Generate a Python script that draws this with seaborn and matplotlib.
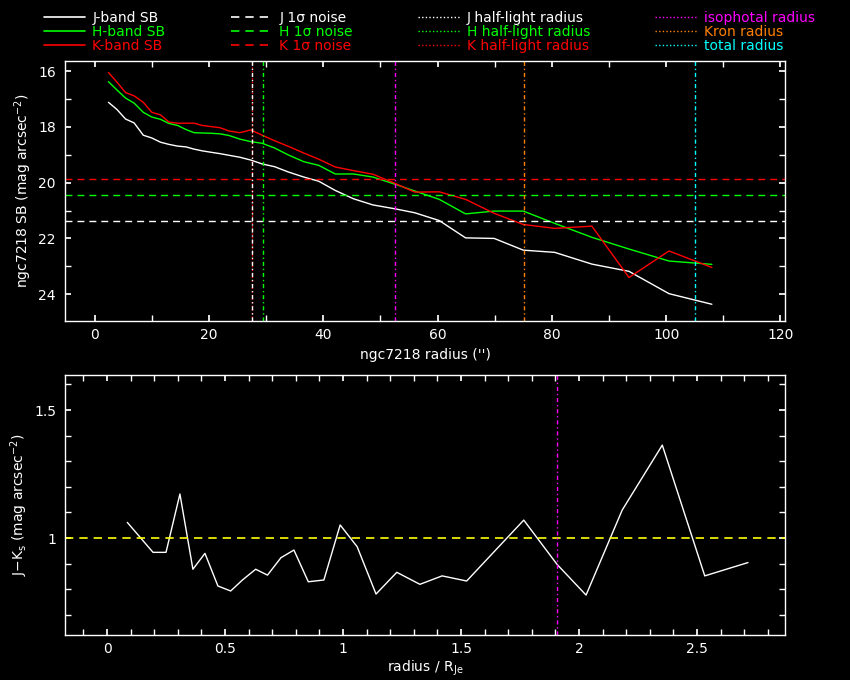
import matplotlib
matplotlib.use("Agg")
import matplotlib.pyplot as plt
from matplotlib.lines import Line2D
from matplotlib.ticker import MultipleLocator
import numpy as np
import pandas as pd
import seaborn as sns

# ---------------- data ----------------
radius = [2.4, 3.9, 5.4, 6.9, 8.5, 10.0, 11.5, 13.0, 14.5, 16.0, 17.4, 18.8,
          20.3, 21.9, 23.5, 25.4, 27.3, 29.3, 31.5, 33.9, 36.6, 39.2, 42.1,
          45.3, 48.7, 52.6, 56.0, 60.3, 64.9, 69.9, 75.0, 80.5, 87.0, 93.5,
          100.5, 108.0]
j_sb = [17.12, 17.38, 17.72, 17.86, 18.30, 18.40, 18.55, 18.63, 18.69, 18.72,
        18.80, 18.86, 18.91, 18.96, 19.02, 19.09, 19.19, 19.33, 19.43, 19.62,
        19.80, 19.95, 20.28, 20.58, 20.80, 20.94, 21.08, 21.36, 21.98, 22.00,
        22.42, 22.50, 22.92, 23.18, 23.98, 24.36]
h_sb = [16.38, 16.68, 16.97, 17.15, 17.48, 17.65, 17.73, 17.88, 17.95, 18.10,
        18.21, 18.22, 18.23, 18.25, 18.31, 18.44, 18.53, 18.59, 18.76, 19.01,
        19.25, 19.38, 19.69, 19.69, 19.80, 20.06, 20.30, 20.60, 21.12, 21.02,
        21.02, 21.46, 21.96, 22.38, 22.81, 22.93]
k_sb = [16.05, 16.40, 16.77, 16.89, 17.12, 17.48, 17.57, 17.83, 17.87, 17.87,
        17.87, 17.95, 17.99, 18.03, 18.15, 18.21, 18.11, 18.30, 18.50, 18.70,
        18.94, 19.16, 19.44, 19.57, 19.70, 20.03, 20.34, 20.33, 20.60, 21.10,
        21.50, 21.64, 21.56, 23.40, 22.45, 23.04]

noise = {"J": 21.38, "H": 20.46, "K": 19.87}
half_light = {"J": 27.6, "H": 29.5, "K": 27.6}
iso_radius = 52.6
kron_radius = 75.2
total_radius = 105.1

r_norm = [0.086, 0.195, 0.25, 0.309, 0.364, 0.415, 0.47, 0.524, 0.574, 0.63,
          0.68, 0.737, 0.792, 0.853, 0.919, 0.988, 1.06, 1.14, 1.228, 1.326,
          1.42, 1.524, 1.766, 1.907, 2.03, 2.183, 2.353, 2.533, 2.716]
j_k = [1.061, 0.944, 0.944, 1.172, 0.878, 0.94, 0.8125, 0.793, 0.836, 0.878,
       0.855, 0.923, 0.953, 0.829, 0.836, 1.051, 0.966, 0.781, 0.866, 0.819,
       0.852, 0.832, 1.07, 0.897, 0.777, 1.109, 1.363, 0.852, 0.904]
jk_ref = 1.0
iso_norm = 1.907

col = {"J": "#ffffff", "H": "#00ff00", "K": "#ff0000"}
c_iso, c_kron, c_tot = "#ff00ff", "#ff8000", "#00ffff"

# ---------------- style ----------------
sns.set_theme(style="dark", rc={
    "figure.facecolor": "black", "axes.facecolor": "black",
    "axes.edgecolor": "white", "axes.labelcolor": "white",
    "xtick.color": "white", "ytick.color": "white", "text.color": "white",
    "axes.linewidth": 1.0, "xtick.direction": "in", "ytick.direction": "in",
    "xtick.major.size": 4.5, "ytick.major.size": 4.5,
    "xtick.minor.size": 4.5, "ytick.minor.size": 4.5,
    "xtick.bottom": True, "xtick.top": True, "ytick.left": True,
    "ytick.right": True, "axes.grid": False,
})
plt.rcParams["font.family"] = ["DejaVu Sans"]
plt.rcParams["font.size"] = 10

dash = (0, (5, 3.6))
dot = (0, (1, 1.6))
dashdot = (0, (3, 2, 1, 2))

fig = plt.figure(figsize=(8.5, 6.8), dpi=100)
ax1 = fig.add_axes([65 / 850, 1 - 321 / 680, 720 / 850, 260 / 680])
ax2 = fig.add_axes([65 / 850, 1 - 635 / 680, 720 / 850, 260 / 680])

sb = pd.DataFrame({"radius": radius, "J": j_sb, "H": h_sb, "K": k_sb})
for band in ["J", "H", "K"]:
    sns.lineplot(data=sb, x="radius", y=band, ax=ax1, color=col[band],
                 lw=1, estimator=None, sort=False)
for band in ["J", "H", "K"]:
    ax1.axhline(noise[band], color=col[band], lw=1, ls=dash)
ax1.axvline(half_light["H"], color=col["H"], lw=1, ls=dashdot)
ax1.axvline(half_light["K"], color=col["K"], lw=1, ls=dot)
ax1.axvline(half_light["J"], color=col["J"], lw=1, ls=dashdot)
ax1.axvline(iso_radius, color=c_iso, lw=1, ls=dashdot)
ax1.axvline(kron_radius, color=c_kron, lw=1, ls=dashdot)
ax1.axvline(total_radius, color=c_tot, lw=1, ls=dashdot)

ax1.set_xlim(-5.2, 120.8)
ax1.set_ylim(24.96, 15.64)
ax1.xaxis.set_major_locator(MultipleLocator(20))
ax1.xaxis.set_minor_locator(MultipleLocator(10))
ax1.yaxis.set_major_locator(MultipleLocator(2))
ax1.yaxis.set_minor_locator(MultipleLocator(1))
ax1.set_xlabel("ngc7218 radius ('')", fontsize=10, labelpad=4)
ax1.set_ylabel("ngc7218 SB (mag arcsec$^{-2}$)", fontsize=10, labelpad=3)

jk = pd.DataFrame({"r": r_norm, "jk": j_k})
sns.lineplot(data=jk, x="r", y="jk", ax=ax2, color="white", lw=1,
             estimator=None, sort=False)
ax2.axhline(jk_ref, color="#ffff00", lw=1.2, ls=dash)
ax2.axvline(iso_norm, color=c_iso, lw=1, ls=dashdot)
ax2.set_xlim(-0.178, 2.873)
ax2.set_ylim(0.621, 1.637)
ax2.xaxis.set_major_locator(MultipleLocator(0.5))
ax2.xaxis.set_minor_locator(MultipleLocator(0.1))
ax2.yaxis.set_major_locator(MultipleLocator(0.5))
ax2.yaxis.set_minor_locator(MultipleLocator(0.1))
ax2.xaxis.set_major_formatter(lambda v, p: f"{v:g}")
ax2.yaxis.set_major_formatter(lambda v, p: f"{v:g}")
ax2.set_xlabel("radius / R$_{\\rm Je}$", fontsize=10, labelpad=2)
ax2.set_ylabel("J\u2212K$_{\\rm s}$ (mag arcsec$^{-2}$)", fontsize=10, labelpad=3)

for ax in (ax1, ax2):
    ax.tick_params(which="both", labelsize=10)
    ax.tick_params(axis="x", pad=5)
    ax.tick_params(axis="y", pad=6.5)
    for s in ax.spines.values():
        s.set_color("white")

# legend across the top
handles = [
    Line2D([], [], color=col["J"], lw=1.2, label="J-band SB"),
    Line2D([], [], color=col["H"], lw=1.2, label="H-band SB"),
    Line2D([], [], color=col["K"], lw=1.2, label="K-band SB"),
    Line2D([], [], color=col["J"], lw=1.2, ls=dash, label="J 1\u03c3 noise"),
    Line2D([], [], color=col["H"], lw=1.2, ls=dash, label="H 1\u03c3 noise"),
    Line2D([], [], color=col["K"], lw=1.2, ls=dash, label="K 1\u03c3 noise"),
    Line2D([], [], color=col["J"], lw=1, ls=dot, label="J half-light radius"),
    Line2D([], [], color=col["H"], lw=1, ls=dot, label="H half-light radius"),
    Line2D([], [], color=col["K"], lw=1, ls=dot, label="K half-light radius"),
    Line2D([], [], color=c_iso, lw=1, ls=dot, label="isophotal radius"),
    Line2D([], [], color=c_kron, lw=1, ls=dot, label="Kron radius"),
    Line2D([], [], color=c_tot, lw=1, ls=dot, label="total radius"),
]
fig.legend(handles=handles, ncol=4, loc="upper left",
           bbox_to_anchor=(34 / 850, 1 - 1 / 680), frameon=False,
           labelcolor="linecolor", fontsize=10, handlelength=3.0,
           handletextpad=0.5, columnspacing=4.7, labelspacing=0.0,
           borderpad=0.2)

fig.savefig("out.png", dpi=100, facecolor="black")
